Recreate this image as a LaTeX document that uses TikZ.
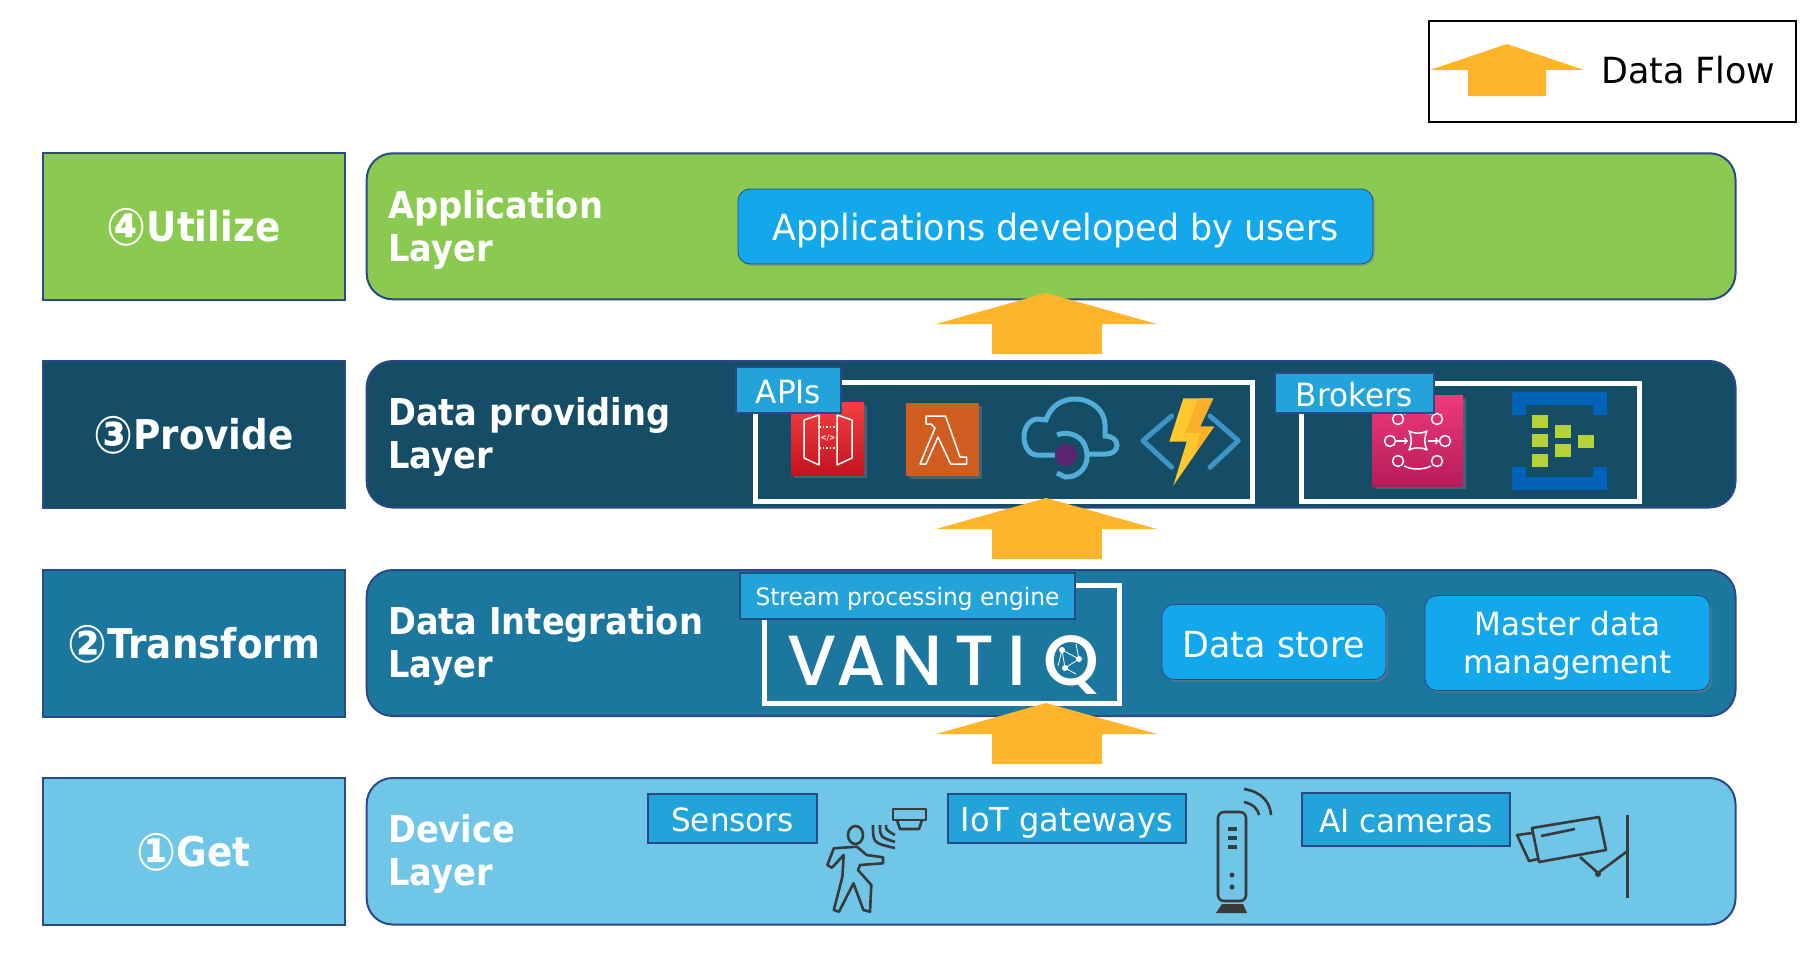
\documentclass[tikz,border=0pt]{standalone}
\usepackage{fontspec}
\setmainfont{DejaVu Sans}[FakeStretch=0.97,BoldFeatures={FakeStretch=0.91}]
\newfontfamily\logofont{Poppins Medium}
\usetikzlibrary{shadows}
\definecolor{layerGet}{HTML}{6FC6E7}
\definecolor{layerTransform}{HTML}{1B779E}
\definecolor{layerProvide}{HTML}{144D65}
\definecolor{layerUtilize}{HTML}{8BCA50}
\definecolor{edgeBlue}{HTML}{2A4A85}
\definecolor{tagBlue}{HTML}{22A4DA}
\definecolor{boxBlue}{HTML}{12A8EB}
\definecolor{flowOrange}{HTML}{FFB52B}
\definecolor{iconDark}{HTML}{3A3A3A}
\definecolor{gateTop}{HTML}{F34142}
\definecolor{gateBottom}{HTML}{C2131F}
\definecolor{lambdaOrange}{HTML}{D05C20}
\definecolor{cloudBlue}{HTML}{52AED8}
\definecolor{dotPurple}{HTML}{5C2371}
\definecolor{chevronBlue}{HTML}{3D94C6}
\definecolor{boltLight}{HTML}{FFC82E}
\definecolor{boltDark}{HTML}{FBB02A}
\definecolor{brokerTop}{HTML}{EE3A7A}
\definecolor{brokerBottom}{HTML}{B71C5A}
\definecolor{hubBlue}{HTML}{0063B8}
\definecolor{hubGreen}{HTML}{B5D337}
\newcommand{\circled}[1]{\smash{\raisebox{-4pt}{\fontsize{52}{52}\selectfont #1}}}
\tikzset{
  stage/.style={draw=edgeBlue,line width=2pt,text=white,minimum width=302pt,minimum height=147pt,inner sep=0pt,font=\fontsize{41}{44}\selectfont\bfseries},
  layer/.style={draw=edgeBlue,line width=2pt,rounded corners=26pt},
  layertext/.style={text=white,align=left,anchor=west,inner sep=0pt,font=\fontsize{37}{43}\selectfont\bfseries},
  tag/.style={draw=edgeBlue,line width=2pt,fill=tagBlue,text=white,inner sep=0pt,text height=26pt,text depth=0pt,font=\fontsize{32}{38}\selectfont},
  bluebox/.style={fill=boxBlue,draw=edgeBlue,line width=0.8pt,rounded corners=12pt,text=white,align=center,inner sep=0pt,
    drop shadow={shadow xshift=2pt,shadow yshift=-2pt,opacity=0.5}},
  frameline/.style={draw=white,line width=5pt},
  iconshadow/.style={drop shadow={shadow xshift=2.5pt,shadow yshift=-2.5pt,opacity=0.45}},
  thinicon/.style={draw=iconDark,line width=2.6pt,line join=round},
  lineart/.style={draw=white,line width=1.5pt,line join=round},
}
\begin{document}
\begin{tikzpicture}[x=1pt,y=-1pt]
\useasboundingbox (0,0) rectangle (1810,966);

% legend
\node[draw=black,line width=2pt,minimum width=367pt,minimum height=101pt,inner sep=0pt] (legend) at (1612.5,71.5) {};
\fill[flowOrange] (1507,44) -- (1584,70) -- (1546,70) -- (1546,96) -- (1468,96) -- (1468,70) -- (1430,70) -- cycle;
\node[anchor=base west,inner sep=0pt,font=\fontsize{36}{40}\selectfont] (legendtext) at (1601,84) {Data Flow};

% rows
\node[stage,fill=layerUtilize] (utilize) at (193.5,226.5) {\circled{④}Utilize};
\node[stage,fill=layerProvide] (provide) at (193.5,434.5) {\circled{③}Provide};
\node[stage,fill=layerTransform] (transform) at (193.5,643.5) {\circled{②}Transform};
\node[stage,fill=layerGet] (get) at (193.5,851.5) {\circled{①}Get};

\path[layer,fill=layerUtilize] (366.7,153.3) rectangle (1735.5,299.3);
\path[layer,fill=layerProvide] (366.7,361) rectangle (1735.5,507.5);
\path[layer,fill=layerTransform] (366.7,570) rectangle (1735.5,716);
\path[layer,fill=layerGet] (366.7,778) rectangle (1735.5,924.5);

\node[layertext] (apptext) at (388,230) {Application\\Layer};
\node[layertext] (providetext) at (388,437) {Data providing\\Layer};
\node[layertext] (integrationtext) at (388,646) {Data Integration\\Layer};
\node[layertext] (devicetext) at (388,854) {Device\\Layer};

% boxes
\node[bluebox,minimum width=635pt,minimum height=75pt,text height=27pt,text depth=0pt,font=\fontsize{36}{43}\selectfont] (appbox) at (1055.5,226.5) {Applications developed by users};
\node[bluebox,minimum width=224pt,minimum height=75pt,text height=30pt,text depth=0pt,font=\fontsize{36}{43}\selectfont] (storebox) at (1274,642) {Data store};
\node[bluebox,minimum width=285pt,minimum height=95pt,font=\fontsize{32}{38}\selectfont] (masterbox) at (1567.5,643) {\rule{0pt}{30pt}Master data\\management};

% provide frames
\draw[frameline] (755.5,382.5) rectangle (1252.5,501.5);
\draw[frameline] (1301.5,383.5) rectangle (1639.5,501.5);
% transform frame
\draw[frameline] (764.5,585.5) rectangle (1119.5,703.5);

% flow arrows
\foreach \tipy in {293,498,703} {
  \fill[flowOrange] (1046,\tipy) -- (1157,\tipy+31) -- (1102,\tipy+31) -- (1102,\tipy+61) -- (992,\tipy+61) -- (992,\tipy+31) -- (936,\tipy+31) -- cycle;
}

% api gateway
\path[iconshadow,top color=gateTop,bottom color=gateBottom] (791,402) rectangle (864,475);
\draw[lineart] (804,420) -- (819,415) -- (819,465) -- (804,458) -- cycle;
\draw[lineart] (852,420) -- (837,415) -- (837,465) -- (852,458) -- cycle;
\draw[lineart,dotted] (819,427) -- (837,427) (819,448) -- (837,448);
\node[text=white,inner sep=0pt,font=\fontsize{8}{9}\selectfont\bfseries] (gatecode) at (828,438) {</>};

% lambda
\path[iconshadow,fill=lambdaOrange] (906,403) rectangle (979,476);
\draw[lineart] (926,416) -- (945.5,416) -- (960,457) -- (966.6,457) -- (966.6,464) -- (950.6,464) -- (938,437) -- (926,464) -- (920,464) -- (935,428) -- (931,424) -- (926,424) -- cycle;

% cloud
\draw[line width=5pt,draw=cloudBlue,line cap=butt] (1055,455) -- (1037,455) .. controls (1029,455) and (1024,446) .. (1024,437) .. controls (1024,427) and (1030,419) .. (1038,419) -- (1046,420) .. controls (1051,405) and (1063,399) .. (1075,399) .. controls (1092,399) and (1105,411) .. (1105,425) -- (1105,436) .. controls (1112,436) and (1117,440) .. (1117,445) .. controls (1117,450) and (1113,454) .. (1106,454) -- (1085,454);
\draw[line width=5pt,draw=cloudBlue] (1057,435) .. controls (1065,431) and (1086,433) .. (1087,455) .. controls (1088,470) and (1075,478) .. (1065,477) -- (1057,473);
\fill[dotPurple] (1066,455) circle (11pt);

% function
\draw[line width=5pt,draw=chevronBlue,line cap=round,line join=round] (1171.7,416) -- (1143,440.7) -- (1171.7,467.3) (1210,416) -- (1238.3,440.7) -- (1210,467.3);
\fill[boltLight] (1183.3,398.3) -- (1213.3,398.3) -- (1200,426.7) -- (1214,426.7) -- (1173.3,485.7) -- (1186.7,441.7) -- (1169.3,441.7) -- cycle;
\fill[boltDark] (1198.3,398.3) -- (1213.3,398.3) -- (1200,426.7) -- (1214,426.7) -- (1195,453) -- (1200,433) -- (1185,433) -- cycle;

% broker
\path[iconshadow,top color=brokerTop,bottom color=brokerBottom] (1372,395) rectangle (1463,486);
\foreach \cx/\cy in {1398/419,1437/419,1390/441,1445/441,1398/461,1437/461} {
  \draw[lineart] (\cx,\cy) circle (5.5pt);
}
\draw[lineart] (1409,431) .. controls (1415,434) and (1421,434) .. (1427,431) .. controls (1424,437) and (1424,444) .. (1427,450) .. controls (1421,447) and (1415,447) .. (1409,450) .. controls (1412,444) and (1412,437) .. (1409,431) -- cycle;
\draw[lineart,->] (1396,441) -- (1408,441);
\draw[lineart,->] (1428,441) -- (1439,441);
\draw[lineart] (1404,414) .. controls (1412,410) and (1423,410) .. (1431,414);
\draw[lineart] (1404,466) .. controls (1412,470) and (1423,470) .. (1431,466);

% event hub
\fill[hubBlue] (1512,415) -- (1512,392) -- (1607,392) -- (1607,415) -- (1593,415) -- (1593,405) -- (1526,405) -- (1526,415) -- cycle;
\fill[hubBlue] (1512,467) -- (1512,490) -- (1607,490) -- (1607,467) -- (1593,467) -- (1593,477) -- (1526,477) -- (1526,467) -- cycle;
\foreach \sx/\sy in {1532/415,1532/434,1532/454,1555/425,1555/444,1578/435} {
  \fill[hubGreen] (\sx,\sy) rectangle +(16,13);
}

% vantiq logo
\node[text=white,anchor=base west,inner sep=0pt,font=\logofont\fontsize{71}{80}\selectfont] (vantiq) at (790,685) {\makebox[43pt][c]{V}\makebox[56pt][c]{A}\makebox[56pt][c]{N}\makebox[58pt][c]{T}\makebox[28pt][c]{I}\makebox[81pt][c]{Q}};
\draw[white,line width=0.8pt] (1062,650) -- (1079,659) -- (1065,668) -- cycle (1062,650) -- (1058,666) (1079,659) -- (1076,644) (1065,668) -- (1076,674);
\foreach \dx/\dy in {1062/650,1079/659,1065/668} {
  \fill[white] (\dx,\dy) circle (3pt);
}

% sensor person
\draw[thinicon] (855.5,835) ellipse (7.5 and 9);
\draw[thinicon] (833.8,848.3) -- (827.3,865) -- (831.9,867.7) -- (843.7,855) -- (842.4,876.7) -- (833.8,910) -- (839,911.7) -- (853.5,883.3) -- (863.4,910) -- (870,911.7) -- (871.3,885) -- (858,870) -- (860,865) -- (883,863.3) -- (883,857.3) -- (866.7,855) -- (856.8,846.7) -- cycle;
\draw[thinicon] (893,809) rectangle (926,820);
\draw[thinicon] (897,820) -- (900,829) -- (919,829) -- (922,820);
\foreach \wx/\wy in {873/848,880/842,886/835} {
  \draw[thinicon] (\wx,825) .. controls (\wx,\wy-5) .. (895,\wy);
}

% gateway router
\draw[thinicon,rounded corners=6pt] (1218,812) rectangle (1246,901);
\fill[iconDark] (1222,904) -- (1243,904) -- (1247,913) -- (1216,913) -- cycle;
\foreach \by in {829,838,847} {
  \fill[iconDark] (1228,\by-2) rectangle (1237,\by+2);
}
\fill[iconDark] (1232,875) circle (2.5pt) (1232,887) circle (2.5pt);
\draw[thinicon] (1244,789) .. controls (1262,792) and (1270,802) .. (1271,815);
\draw[thinicon] (1244,802) .. controls (1253,804) and (1258,809) .. (1259,815);

% camera
\draw[thinicon] (1532,828) -- (1599,817) -- (1606,850) -- (1539,862) -- cycle;
\draw[thinicon] (1532,833) -- (1517,835) -- (1529,861) -- (1538,859);
\draw[thinicon] (1541,836) -- (1575,829);
\draw[thinicon] (1580,857) -- (1598,873) -- (1627.5,851);
\fill[iconDark] (1598,874) circle (3pt);
\draw[thinicon] (1627.5,815) -- (1627.5,898);

% tags
\node[tag,minimum width=105pt,minimum height=46pt] (apistag) at (788.5,390) {APIs};
\node[tag,minimum width=159pt,minimum height=40pt] (brokerstag) at (1354.5,393) {Brokers};
\node[tag,minimum width=335pt,minimum height=46pt,text height=18.5pt,font=\fontsize{24}{30}\selectfont] (streamtag) at (907.5,596) {Stream processing engine};
\node[tag,minimum width=169pt,minimum height=49pt] (sensorstag) at (732.5,818.5) {Sensors};
\node[tag,minimum width=238pt,minimum height=49pt,font=\fontsize{33}{38}\selectfont] (gatewaystag) at (1067,818.5) {IoT gateways};
\node[tag,minimum width=208pt,minimum height=53pt] (camerastag) at (1406,819.5) {AI cameras};
\end{tikzpicture}
\end{document}
